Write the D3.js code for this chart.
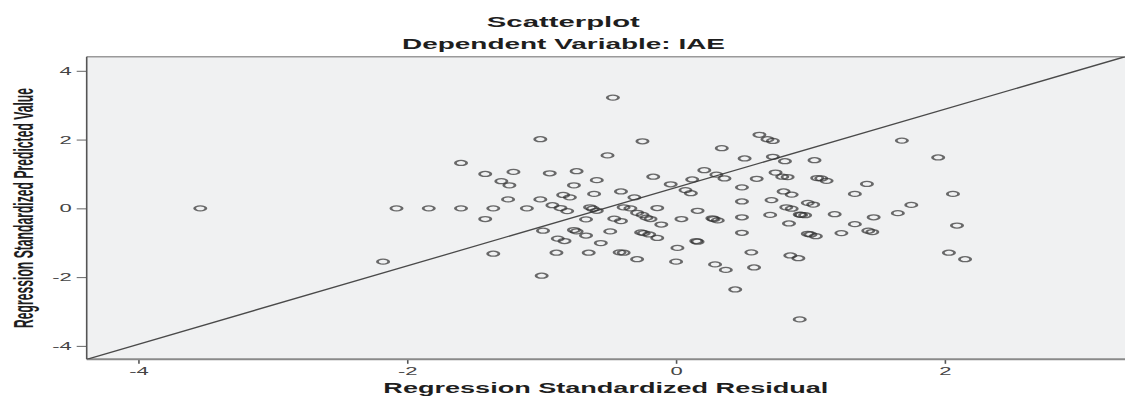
<!DOCTYPE html>
<html>
<head>
<meta charset="utf-8">
<script src="https://cdn.jsdelivr.net/npm/d3@7"></script>
<style>
  html, body { margin: 0; padding: 0; background: #fff; }
  svg { display: block; font-family: "Liberation Sans", Arial, sans-serif; }
</style>
</head>
<body>
<svg id="chart" width="1125" height="396"></svg>
<script>
// values
const residuals = [
  -3.54, -2.18, -2.08, -1.84, -1.60, -1.60, -1.42, -1.36, -1.42, -1.36,
  -1.30, -1.21, -1.24, -1.25, -0.47, -1.01, -0.51, -0.94, -0.74, -0.59,
  -0.76, -0.41, -0.84, -0.79, -0.61, -1.01, -1.11, -0.92, -0.86, -0.81,
  -0.64, -0.62, -0.59, -0.39, -0.67, -0.46, -0.41, -0.99, -0.76, -0.74,
  -0.67, -0.49, -0.88, -0.83, -0.56, -0.89, -0.65, -0.42, -0.39, -1.00,
  -0.25, 0.34, 0.51, -0.17, 0.21, 0.12, 0.30, 0.36, -0.04, 0.07,
  0.11, 0.49, -0.31, 0.49, -0.14, -0.34, -0.29, -0.25, -0.22, -0.19,
  -0.11, 0.04, 0.16, 0.27, 0.28, 0.31, 0.49, -0.26, -0.24, -0.20,
  -0.14, 0.15, 0.16, 0.01, 0.49, -0.29, 0.00, 0.29, 0.37, 0.44,
  0.56, 0.58, 0.62, 0.68, 0.72, 0.72, 0.81, 1.03, 0.60, 0.74,
  0.79, 0.83, 1.05, 1.08, 1.12, 0.80, 0.86, 1.33, 1.42, 0.71,
  0.82, 0.86, 0.98, 1.02, 0.70, 0.92, 0.93, 0.96, 1.18, 0.84,
  1.33, 1.47, 0.98, 1.00, 1.04, 1.23, 1.43, 1.46, 0.85, 0.91,
  0.92, 1.68, 1.95, 1.75, 1.65, 2.06, 2.09, 2.03, 2.15
];
const predicted = [
  0.00, -1.55, 0.00, 0.00, 0.00, 1.32, 1.00, 0.00, -0.31, -1.32,
  0.79, 1.06, 0.67, 0.26, 3.22, 2.01, 1.54, 1.02, 1.08, 0.82,
  0.67, 0.49, 0.39, 0.32, 0.42, 0.26, 0.00, 0.09, 0.01, -0.08,
  0.03, -0.01, -0.07, 0.03, -0.32, -0.30, -0.37, -0.65, -0.63, -0.67,
  -0.79, -0.67, -0.88, -0.95, -1.01, -1.29, -1.29, -1.28, -1.29, -1.96,
  1.95, 1.75, 1.45, 0.92, 1.11, 0.84, 0.98, 0.87, 0.70, 0.53,
  0.44, 0.61, 0.32, 0.20, 0.01, 0.00, -0.13, -0.19, -0.27, -0.31,
  -0.47, -0.31, -0.07, -0.29, -0.31, -0.35, -0.26, -0.70, -0.72, -0.76,
  -0.86, -0.95, -0.97, -1.15, -0.71, -1.48, -1.55, -1.63, -1.79, -2.36,
  -1.28, -1.72, 2.14, 2.01, 1.96, 1.50, 1.37, 1.40, 0.86, 1.04,
  0.92, 0.91, 0.88, 0.87, 0.80, 0.49, 0.40, 0.42, 0.71, 0.24,
  0.03, -0.01, 0.16, 0.11, -0.19, -0.18, -0.19, -0.20, -0.17, -0.44,
  -0.46, -0.26, -0.74, -0.76, -0.81, -0.72, -0.65, -0.69, -1.37, -1.45,
  -3.23, 1.97, 1.48, 0.10, -0.14, 0.42, -0.50, -1.29, -1.48
];
const xTicks = [-4, -2, 0, 2];
const yTicks = [-4, -2, 0, 2, 4];
const xDomain = [-4.385, 3.34];
const yDomain = [-4.39, 4.41];
// reference line, corner to corner
const refLineX = [-4.385, 3.34];
const refLineY = [-4.39, 4.41];

const title = "Scatterplot";
const subtitle = "Dependent Variable: IAE";
const xLabel = "Regression Standardized Residual";
const yLabel = "Regression Standardized Predicted Value";

const width = 1125, height = 396;
const margin = { top: 56.7, right: 0, bottom: 36.7, left: 86.7 };
const stretch = 2; // source picture is squashed wide, so text and marks are too

const svg = d3.select("#chart");

const x = d3.scaleLinear().domain(xDomain).range([margin.left, width - margin.right]);
const y = d3.scaleLinear().domain(yDomain).range([height - margin.bottom, margin.top]);

// plot area
svg.append("rect")
  .attr("x", margin.left)
  .attr("y", margin.top)
  .attr("width", width - margin.left - margin.right)
  .attr("height", height - margin.top - margin.bottom)
  .attr("fill", "#f0f1f2");

svg.append("clipPath").attr("id", "plotClip")
  .append("rect")
  .attr("x", margin.left)
  .attr("y", margin.top)
  .attr("width", width - margin.left - margin.right)
  .attr("height", height - margin.top - margin.bottom);

// axes
const yAxis = svg.append("g")
  .attr("transform", `translate(${margin.left},0)`)
  .call(d3.axisLeft(y).tickValues(yTicks).tickSize(10).tickPadding(5).tickFormat(d => String(d)));
yAxis.select(".domain").remove();
yAxis.selectAll(".tick line").attr("stroke", "#666").attr("stroke-width", 1);
yAxis.selectAll(".tick text")
  .attr("x", -15 / stretch)
  .attr("transform", `scale(${stretch},1)`)
  .attr("font-size", 11)
  .attr("fill", "#444");

const xAxis = svg.append("g")
  .attr("transform", `translate(0,${height - margin.bottom})`)
  .call(d3.axisBottom(x).tickValues(xTicks).tickSize(4.5).tickPadding(3).tickFormat(d => String(d)));
xAxis.select(".domain").remove();
xAxis.selectAll(".tick line").attr("stroke", "#555").attr("stroke-width", 1.6);
xAxis.selectAll(".tick text")
  .attr("transform", `scale(${stretch},1)`)
  .attr("font-size", 11)
  .attr("fill", "#444");

// frame
svg.append("line")
  .attr("x1", margin.left).attr("x2", width)
  .attr("y1", margin.top).attr("y2", margin.top)
  .attr("stroke", "#9a9a9a").attr("stroke-width", 1.5);
svg.append("line")
  .attr("x1", margin.left).attr("x2", width)
  .attr("y1", height - margin.bottom).attr("y2", height - margin.bottom)
  .attr("stroke", "#8a8a8a").attr("stroke-width", 2);
svg.append("line")
  .attr("x1", margin.left).attr("x2", margin.left)
  .attr("y1", margin.top).attr("y2", height - margin.bottom)
  .attr("stroke", "#555").attr("stroke-width", 1.6);

// reference line
svg.append("path")
  .attr("clip-path", "url(#plotClip)")
  .attr("d", d3.line()([[x(refLineX[0]), y(refLineY[0])], [x(refLineX[1]), y(refLineY[1])]]))
  .attr("fill", "none")
  .attr("stroke", "#4a4a4a")
  .attr("stroke-width", 1.3);

// points
const points = residuals.map((r, i) => ({ r: r, p: predicted[i] }));
svg.append("g")
  .attr("class", "points")
  .selectAll("circle")
  .data(points)
  .enter()
  .append("circle")
  .attr("transform", d => `translate(${x(d.r)},${y(d.p)}) scale(2.25,1)`)
  .attr("r", 2.5)
  .attr("fill", "none")
  .attr("stroke", "#333")
  .attr("stroke-opacity", 0.72)
  .attr("stroke-width", 1.25);

// text, stretched like the source
function stretchedText(str, tx, ty, size, textWidth, weight) {
  return svg.append("text")
    .attr("transform", `translate(${tx},${ty}) scale(${stretch},1)`)
    .attr("text-anchor", "middle")
    .attr("font-size", size)
    .attr("font-weight", weight)
    .attr("textLength", textWidth / stretch)
    .attr("lengthAdjust", "spacingAndGlyphs")
    .attr("fill", "#1e1e1e")
    .text(str);
}

stretchedText(title, 563.3, 27.3, 14, 153, "bold");
stretchedText(subtitle, 563.5, 49.3, 14, 323, "bold");
stretchedText(xLabel, (margin.left + width) / 2, 393, 14, 445, "bold");

svg.append("text")
  .attr("transform", `translate(32.7,${(margin.top + height - margin.bottom) / 2}) rotate(-90) scale(1,${stretch})`)
  .attr("text-anchor", "middle")
  .attr("font-size", 14)
  .attr("font-weight", "bold")
  .attr("textLength", 240)
  .attr("lengthAdjust", "spacingAndGlyphs")
  .attr("fill", "#1e1e1e")
  .text(yLabel);
</script>
</body>
</html>
